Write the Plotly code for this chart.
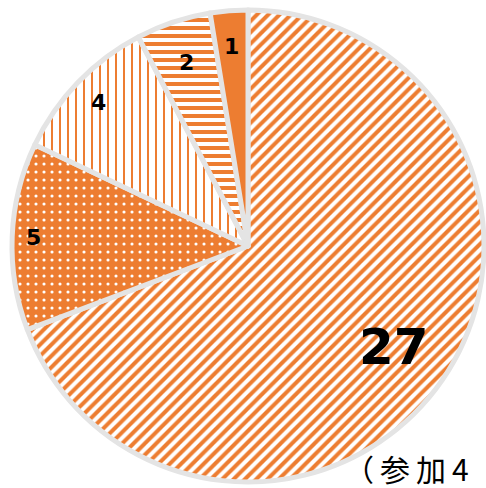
import math
import plotly.graph_objects as go

labels = ["27", "5", "4", "2", "1"]
values = [27, 5, 4, 2, 1]
shapes = ["/", ".", "|", "-", ""]
fgcolors = ["#ED7D31", "#FFFFFF", "#ED7D31", "#ED7D31", "#ED7D31"]
bgcolors = ["#FFFFFF", "#ED7D31", "#FFFFFF", "#FFFFFF", "#ED7D31"]
solidity = [0.5, 0.12, 0.25, 0.5, 0.5]
label_radius = [0.75, 0.91, 0.88, 0.82, 0.85]
label_size = [50, 22, 22, 22, 22]
note_chars = ["（", "参", "加", "4"]

W, H = 486, 488
cx, cy, R = 248, 246, 236

fig = go.Figure(go.Pie(
    labels=labels, values=values, sort=False, direction="clockwise", rotation=0,
    textinfo="none", hoverinfo="label+value",
    marker=dict(
        colors=bgcolors,
        line=dict(color="#E4E4E4", width=5),
        pattern=dict(shape=shapes, fgcolor=fgcolors, bgcolor=bgcolors,
                     size=8, solidity=solidity, fillmode="replace"),
    ),
    domain=dict(x=[(cx - R) / W, (cx + R) / W], y=[(H - cy - R) / H, (H - cy + R) / H]),
    showlegend=False,
))

total = sum(values)
cum = 0
annotations = []
for lab, v, rf, fs in zip(labels, values, label_radius, label_size):
    mid = (cum + v / 2) / total * 2 * math.pi
    cum += v
    px = cx + rf * R * math.sin(mid)
    py = cy - rf * R * math.cos(mid)
    annotations.append(dict(x=px / W, y=1 - py / H, xref="paper", yref="paper",
                            xanchor="center", yanchor="middle",
                            text=f"<b>{lab}</b>", showarrow=False,
                            font=dict(family="DejaVu Sans", size=fs, color="#000000")))
annotations.append(dict(x=342 / W, y=1 - 468 / H, xref="paper", yref="paper",
                        xanchor="left", yanchor="middle", text="\u2009".join(note_chars),
                        showarrow=False,
                        font=dict(family="Noto Sans CJK JP", size=30, color="#000000")))

fig.update_layout(width=W, height=H, margin=dict(l=0, r=0, t=0, b=0),
                  paper_bgcolor="white", plot_bgcolor="white", annotations=annotations)
fig.write_html("out.html")
